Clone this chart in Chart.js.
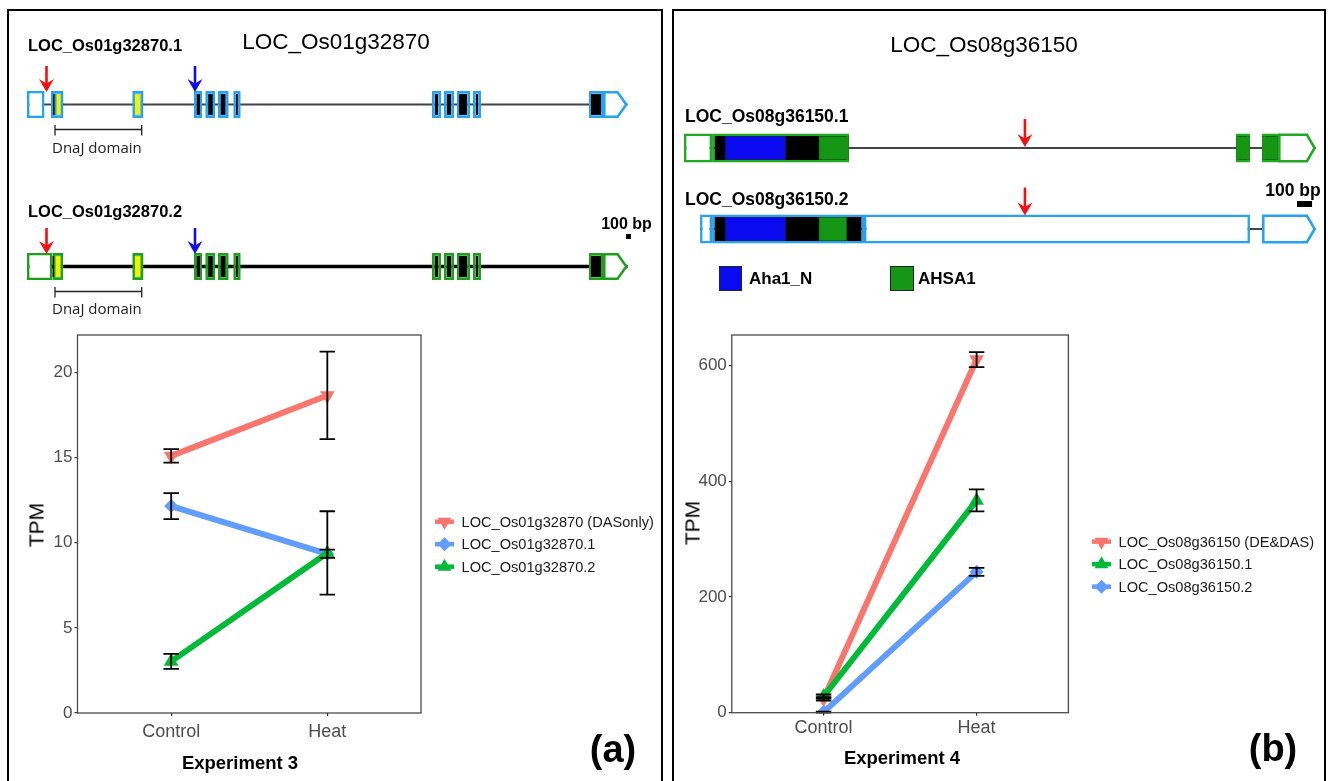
<!DOCTYPE html>
<html>
<head>
<meta charset="utf-8">
<script src="https://cdn.jsdelivr.net/npm/chart.js@4.4.1/dist/chart.umd.min.js"></script>
<style>
html,body{margin:0;padding:0;background:#fff;}
body{width:1328px;height:781px;overflow:hidden;position:relative;font-family:"Liberation Sans",Arial,Helvetica,sans-serif;color:#000;}
.t{position:absolute;white-space:nowrap;line-height:1;}
.c{transform:translate(-50%,-50%);}
.l{transform:translateY(-50%);}
.b{font-weight:bold;}
.panel{position:absolute;top:9px;height:820px;border:2.7px solid #000;border-bottom:none;box-sizing:border-box;}
canvas{position:absolute;}
.sq{position:absolute;box-sizing:border-box;border:1px solid #222;}
</style>
</head>
<body>
<div class="panel" style="left:6.6px;width:656.5px;"></div>
<div class="panel" style="left:672.4px;width:654px;"></div>

<canvas id="geneA" width="664" height="320" style="left:0;top:0;"></canvas>
<canvas id="geneB" width="664" height="320" style="left:664px;top:0;"></canvas>
<canvas id="chartA" width="664" height="461" style="left:0;top:320px;"></canvas>
<canvas id="chartB" width="664" height="461" style="left:664px;top:320px;"></canvas>

<!-- panel (a) texts -->
<div class="t c" style="left:336px;top:42px;font-size:22.5px;">LOC_Os01g32870</div>
<div class="t l b" style="left:28px;top:45px;font-size:16.5px;">LOC_Os01g32870.1</div>
<div class="t l b" style="left:28px;top:211px;font-size:16.5px;">LOC_Os01g32870.2</div>
<div class="t l" style="left:52px;top:147px;font-size:15px;font-family:'Open Sans',sans-serif;color:#222;">DnaJ domain</div>
<div class="t l" style="left:52px;top:308px;font-size:15px;font-family:'Open Sans',sans-serif;color:#222;">DnaJ domain</div>
<div class="t c b" style="left:626.5px;top:223.5px;font-size:16px;">100 bp</div>
<div class="t c" style="left:36px;top:525px;font-size:21px;transform:translate(-50%,-50%) rotate(-90deg);">TPM</div>
<div class="t c b" style="left:240px;top:763px;font-size:18.5px;">Experiment 3</div>
<div class="t c b" style="left:613px;top:749px;font-size:38px;">(a)</div>

<!-- panel (b) texts -->
<div class="t c" style="left:984px;top:45px;font-size:22.5px;">LOC_Os08g36150</div>
<div class="t l b" style="left:685px;top:117px;font-size:17.5px;">LOC_Os08g36150.1</div>
<div class="t l b" style="left:685px;top:200px;font-size:17.5px;">LOC_Os08g36150.2</div>
<div class="t c b" style="left:1293px;top:190.5px;font-size:17.5px;">100 bp</div>
<div class="sq" style="left:719px;top:266px;width:23px;height:25px;background:#0a0af0;"></div>
<div class="t l b" style="left:749px;top:278px;font-size:17px;">Aha1_N</div>
<div class="sq" style="left:890px;top:266px;width:24px;height:25px;background:#159615;"></div>
<div class="t l b" style="left:918px;top:278px;font-size:17px;">AHSA1</div>
<div class="t c" style="left:692px;top:523px;font-size:21px;transform:translate(-50%,-50%) rotate(-90deg);">TPM</div>
<div class="t c b" style="left:902px;top:758px;font-size:18.5px;">Experiment 4</div>
<div class="t c b" style="left:1273px;top:748px;font-size:38px;">(b)</div>

<script>
// ================= DATA =================
// ---- Panel (a): expression, Experiment 3 ----
const categoriesA = ['Control', 'Heat'];
const labelsA = ['LOC_Os01g32870 (DASonly)', 'LOC_Os01g32870.1', 'LOC_Os01g32870.2'];
const dasA = [15.1, 18.65];
const dasErrA = [0.4, 2.57];
const iso1A = [12.15, 9.35];
const iso1ErrA = [0.76, 0.24];
const iso2A = [3.03, 9.4];
const iso2ErrA = [0.44, 2.45];
const yTicksA = [0, 5, 10, 15, 20];

// ---- Panel (b): expression, Experiment 4 ----
const categoriesB = ['Control', 'Heat'];
const labelsB = ['LOC_Os08g36150 (DE&DAS)', 'LOC_Os08g36150.1', 'LOC_Os08g36150.2'];
const dasB = [24, 610.5];
const dasErrB = [3, 13];
const iso1B = [28, 367];
const iso1ErrB = [3.5, 19];
const iso2B = [1, 243.5];
const iso2ErrB = [1, 7];
const yTicksB = [0, 200, 400, 600];

// ---- Gene model (a): LOC_Os01g32870, bp from transcript start ----
const spanA1 = [0, 12012];
const utr5A1 = [[0, 350]];
const cdsA1 = [[480,730],[2106,2330],[3340,3500],[3566,3766],[3820,4034],[4126,4274],[8100,8280],[8340,8540],[8600,8860],[8920,9080],[11240,11520]];
const codA1 = [[520,550],[3394,3460],[3626,3714],[3874,3966],[4180,4214],[8160,8220],[8400,8480],[8640,8800],[8980,9020],[11280,11480]];
const dnajA1 = [[590,674],[2160,2270]];
const utr3A1 = [11520, 12012];

const spanA2 = [0, 12012];
const utr5A2 = [[0, 510]];
const cdsA2 = [[510,726],[2106,2330],[3340,3500],[3566,3766],[3820,4034],[4126,4274],[8100,8280],[8340,8540],[8600,8860],[8920,9080],[11240,11520]];
const codA2 = [[512,540],[3394,3460],[3626,3714],[3874,3966],[4180,4214],[8160,8220],[8400,8480],[8640,8800],[8980,9020],[11280,11480]];
const dnajA2 = [[570,670],[2160,2270]];
const utr3A2 = [11520, 12012];

const dasSiteA = 390;     // red arrows
const altStartA = 3360;   // blue arrows
const dnajDomainA = [560, 2294];

// ---- Gene model (b): LOC_Os08g36150, bp from transcript start ----
const spanB1 = [0, 4213];
const utr5B1 = [[0, 187]];
const cdsB1 = [[187,1100],[3680,3773],[3853,3960]];
const aha1B1 = [[273, 680]];
const ahsa1B1 = [[897,1100],[3680,3773],[3853,3960]];
const utr3B1 = [3960, 4213];

const spanB2 = [107, 4213];
const utr5B2 = [[107, 187]];
const cdsB2 = [[187, 1200]];
const ncB2 = [[1200, 3773]];
const aha1B2 = [[273, 680]];
const ahsa1B2 = [[897, 1087]];
const utr3B2 = [3853, 4213];

const dasSiteB = 2273;
const scaleBarBp = 100;

// ================= STYLE =================
const FONT = "'Liberation Sans', Arial, Helvetica, sans-serif";
Chart.defaults.font.family = FONT;
const RED = '#F8766D', GREEN = '#00BA38', BLUE = '#619CFF';
const EXON_BLUE = '#27a2f0', EXON_GREEN = '#1f9f1f';

function drawMarker(ctx, style, rot, x, y, r, color) {
  ctx.save();
  ctx.translate(x, y);
  ctx.rotate((rot || 0) * Math.PI / 180);
  ctx.fillStyle = color;
  ctx.beginPath();
  if (style === 'triangle') {
    ctx.moveTo(0, -r); ctx.lineTo(r * 0.866, r * 0.5); ctx.lineTo(-r * 0.866, r * 0.5);
  } else {
    ctx.moveTo(0, -r); ctx.lineTo(r, 0); ctx.lineTo(0, r); ctx.lineTo(-r, 0);
  }
  ctx.closePath(); ctx.fill();
  ctx.restore();
}

const errorBars = {
  id: 'errorBars',
  afterDatasetsDraw(chart, args, o) {
    const {ctx, scales: {x, y}} = chart;
    ctx.save();
    ctx.strokeStyle = '#000'; ctx.lineWidth = o.lw;
    chart.data.datasets.forEach(ds => {
      ds.data.forEach((p, j) => {
        const e = ds.err[j];
        const px = x.getPixelForValue(p.x);
        const y1 = y.getPixelForValue(p.y - e), y2 = y.getPixelForValue(p.y + e);
        ctx.beginPath();
        ctx.moveTo(px, y1); ctx.lineTo(px, y2);
        ctx.moveTo(px - o.cap / 2, y1); ctx.lineTo(px + o.cap / 2, y1);
        ctx.moveTo(px - o.cap / 2, y2); ctx.lineTo(px + o.cap / 2, y2);
        ctx.stroke();
      });
    });
    ctx.restore();
  }
};

const frame = {
  id: 'frame',
  afterDraw(chart) {
    const {ctx, chartArea: ca} = chart;
    ctx.save();
    ctx.strokeStyle = '#4a4a4a'; ctx.lineWidth = 1.3;
    ctx.strokeRect(ca.left, ca.top, ca.right - ca.left, ca.bottom - ca.top);
    ctx.restore();
  }
};

const keyLegend = {
  id: 'keyLegend',
  afterDraw(chart, args, o) {
    const {ctx, chartArea: ca} = chart;
    const kx = ca.right + o.dx;
    const y0 = (ca.top + ca.bottom) / 2 + o.dy;
    ctx.save();
    chart.data.datasets.forEach((ds, i) => {
      const y = y0 + i * o.spacing;
      ctx.strokeStyle = ds.borderColor; ctx.lineWidth = 4.5;
      ctx.beginPath(); ctx.moveTo(kx, y); ctx.lineTo(kx + 19, y); ctx.stroke();
      drawMarker(ctx, ds.pointStyle, ds.pointRotation, kx + 9.5, y, ds.pointStyle === 'triangle' ? 8 : 7, ds.backgroundColor);
      ctx.fillStyle = '#1a1a1a';
      ctx.font = '14.6px ' + FONT;
      ctx.textBaseline = 'middle'; ctx.textAlign = 'left';
      ctx.fillText(ds.label, kx + 26.6, y + 1);
    });
    ctx.restore();
  }
};

function lineChart(id, o) {
  const cv = document.getElementById(id);
  const W = cv.width, H = cv.height;
  const gridOpts = {display: true, drawOnChartArea: false, drawTicks: true, tickLength: 3, color: '#333', lineWidth: 1.2};
  return new Chart(cv, {
    type: 'line',
    data: {
      datasets: o.series.map((s, i) => ({
        label: s.label,
        data: s.values.map((v, j) => ({x: j + 1, y: v})),
        err: s.err,
        borderColor: s.color, backgroundColor: s.color,
        borderWidth: 6, borderCapStyle: 'butt',
        pointStyle: s.marker, pointRotation: s.rot || 0,
        pointRadius: s.marker === 'triangle' ? 8.5 : 7, pointHoverRadius: s.marker === 'triangle' ? 8.5 : 7,
        pointBorderWidth: 0,
        tension: 0, order: o.series.length - i
      }))
    },
    options: {
      responsive: false, animation: false,
      layout: {padding: {left: 0, top: o.caTop, right: W - o.caRight, bottom: 0}},
      plugins: {
        legend: {display: false}, tooltip: {enabled: false},
        errorBars: {lw: 1.8, cap: 15.5},
        keyLegend: o.legend
      },
      scales: {
        x: {
          type: 'linear', min: 0.4, max: 2.6,
          afterBuildTicks: sc => { sc.ticks = o.categories.map((c, i) => ({value: i + 1})); },
          afterFit: sc => { sc.height = H - o.caBottom; },
          ticks: {callback: v => o.categories[Math.round(v) - 1], color: '#4d4d4d', font: {size: 18}, padding: o.xPad, maxRotation: 0, autoSkip: false},
          grid: gridOpts, border: {display: false}
        },
        y: {
          type: 'linear', min: 0, max: o.yMax,
          afterBuildTicks: sc => { sc.ticks = o.yTicks.map(v => ({value: v})); },
          afterFit: sc => { sc.width = o.caLeft; },
          ticks: {callback: v => String(v), color: '#4d4d4d', font: {size: 17}, padding: 2},
          grid: gridOpts, border: {display: false}
        }
      }
    },
    plugins: [frame, errorBars, keyLegend]
  });
}

lineChart('chartA', {
  categories: categoriesA, yTicks: yTicksA, yMax: 22.2,
  caLeft: 77.5, caTop: 15, caRight: 421, caBottom: 393, xPad: 5.5,
  legend: {dx: 14, dy: -2.3, spacing: 22.5},
  series: [
    {label: labelsA[0], values: dasA, err: dasErrA, color: RED, marker: 'triangle', rot: 180},
    {label: labelsA[1], values: iso1A, err: iso1ErrA, color: BLUE, marker: 'rectRot'},
    {label: labelsA[2], values: iso2A, err: iso2ErrA, color: GREEN, marker: 'triangle'}
  ]
});

lineChart('chartB', {
  categories: categoriesB, yTicks: yTicksB, yMax: 653,
  caLeft: 67.8, caTop: 15, caRight: 404.4, caBottom: 392.7, xPad: 2,
  legend: {dx: 23.6, dy: 17.8, spacing: 22.5},
  series: [
    {label: labelsB[0], values: dasB, err: dasErrB, color: RED, marker: 'triangle', rot: 180},
    {label: labelsB[1], values: iso1B, err: iso1ErrB, color: GREEN, marker: 'triangle'},
    {label: labelsB[2], values: iso2B, err: iso2ErrB, color: BLUE, marker: 'rectRot'}
  ]
});

// ---------------- gene structure charts ----------------
const geneExtras = {
  id: 'geneExtras',
  afterDatasetsDraw(chart, args, o) {
    const {ctx, scales: {x, y}} = chart;
    ctx.save();
    // 3' UTR with arrow-shaped end
    o.tracks.forEach((t, i) => {
      const yc = y.getPixelForValue(i);
      const x0 = x.getPixelForValue(t.utr3[0]), x1 = x.getPixelForValue(t.utr3[1]);
      const hb = o.h / 2 - o.bw / 2;
      ctx.beginPath();
      ctx.moveTo(x0 + o.bw / 2, yc - hb);
      ctx.lineTo(x1 - o.tip, yc - hb);
      ctx.lineTo(x1 - o.bw / 2, yc);
      ctx.lineTo(x1 - o.tip, yc + hb);
      ctx.lineTo(x0 + o.bw / 2, yc + hb);
      ctx.closePath();
      ctx.fillStyle = '#fff'; ctx.fill();
      ctx.strokeStyle = t.color; ctx.lineWidth = o.bw; ctx.lineJoin = 'miter'; ctx.stroke();
    });
    // event arrows
    o.arrows.forEach(a => {
      const px = x.getPixelForValue(a.pos), yc = y.getPixelForValue(a.tx);
      const tipY = a.tip === 'line' ? yc - 1 : yc - o.h / 2 + 1;
      const top = tipY - o.arrowLen;
      ctx.strokeStyle = a.color; ctx.fillStyle = a.color; ctx.lineWidth = 2.6;
      ctx.beginPath(); ctx.moveTo(px, top); ctx.lineTo(px, tipY - 8); ctx.stroke();
      ctx.beginPath();
      ctx.moveTo(px, tipY);
      ctx.lineTo(px - 7.5, tipY - 13);
      ctx.lineTo(px, tipY - 8.5);
      ctx.lineTo(px + 7.5, tipY - 13);
      ctx.closePath(); ctx.fill();
    });
    // domain brackets
    (o.brackets || []).forEach(b => {
      const yb = y.getPixelForValue(b.tx) + o.brOff;
      const xa = x.getPixelForValue(b.range[0]), xb = x.getPixelForValue(b.range[1]);
      ctx.strokeStyle = '#222'; ctx.lineWidth = 1.3;
      ctx.beginPath();
      ctx.moveTo(xa, yb); ctx.lineTo(xb, yb);
      ctx.moveTo(xa, yb - 4.5); ctx.lineTo(xa, yb + 6);
      ctx.moveTo(xb, yb - 4.5); ctx.lineTo(xb, yb + 6);
      ctx.stroke();
    });
    // scale bar (100 bp)
    const sb = o.scaleBar;
    const sx0 = x.getPixelForValue(sb.pos), sx1 = x.getPixelForValue(sb.pos + scaleBarBp);
    const sy = y.getPixelForValue(sb.tx) + sb.dy;
    ctx.fillStyle = '#000';
    ctx.fillRect(sx0, sy - sb.h / 2, sx1 - sx0, sb.h);
    ctx.restore();
  }
};

function geneChart(id, o) {
  const cv = document.getElementById(id);
  const W = cv.width, H = cv.height;
  const datasets = [];
  o.tracks.forEach((t, i) => {
    const bar = (ranges, thick, fill, border, bw, order) => datasets.push({
      data: ranges.map(r => ({x: [r[0], r[1]], y: i})),
      barThickness: thick, backgroundColor: fill,
      borderColor: border || fill, borderWidth: bw || 0,
      borderSkipped: false, grouped: false, inflateAmount: 0, order
    });
    const inner = o.h - 2 * o.bw;
    bar([t.span], t.intronW, t.intronC, null, 0, 10);
    bar(t.utr5, o.h, '#fff', t.color, o.bw, 8);
    if (t.nc) bar(t.nc, o.h, '#fff', t.color, o.bw, 8);
    bar(t.cds, o.h, t.cdsFill, t.color, o.bw, 8);
    if (t.cod) bar(t.cod, inner - 1, '#000', null, 0, 6);
    if (t.dnaj) bar(t.dnaj, inner - 1, '#f2f200', null, 0, 6);
    if (t.aha1) bar(t.aha1, inner, '#0a0af0', '#1a1a70', 0.8, 6);
    if (t.ahsa1) bar(t.ahsa1, inner, '#159615', '#0d6e0d', 0.6, 6);
  });
  const xMin = -o.originPx * o.bpPerPx, xMax = (W - o.originPx) * o.bpPerPx;
  const yMin = -o.row0Px / o.rowGap, yMax = yMin + H / o.rowGap;
  return new Chart(cv, {
    type: 'bar',
    data: {datasets},
    options: {
      indexAxis: 'y', responsive: false, animation: false,
      layout: {padding: 0},
      plugins: {legend: {display: false}, tooltip: {enabled: false}, geneExtras: o},
      scales: {
        x: {type: 'linear', display: false, min: xMin, max: xMax, offset: false, grace: 0},
        y: {type: 'linear', display: false, min: yMin, max: yMax, reverse: true, offset: false, grace: 0}
      }
    },
    plugins: [geneExtras]
  });
}

geneChart('geneA', {
  bpPerPx: 20, originPx: 27, row0Px: 104.5, rowGap: 162,
  h: 27, bw: 2.6, tip: 10, arrowLen: 26, brOff: 25,
  tracks: [
    {span: spanA1, utr5: utr5A1, cds: cdsA1, cod: codA1, dnaj: dnajA1, utr3: utr3A1, color: EXON_BLUE, cdsFill: EXON_BLUE, intronW: 2, intronC: '#444'},
    {span: spanA2, utr5: utr5A2, cds: cdsA2, cod: codA2, dnaj: dnajA2, utr3: utr3A2, color: EXON_GREEN, cdsFill: EXON_GREEN, intronW: 3.5, intronC: '#000'}
  ],
  arrows: [
    {tx: 0, pos: dasSiteA, color: '#f21010', tip: 'exon'},
    {tx: 0, pos: altStartA, color: '#1010e6', tip: 'exon'},
    {tx: 1, pos: dasSiteA, color: '#f21010', tip: 'exon'},
    {tx: 1, pos: altStartA, color: '#1010e6', tip: 'exon'}
  ],
  brackets: [{tx: 0, range: dnajDomainA}, {tx: 1, range: dnajDomainA}],
  scaleBar: {tx: 1, pos: 11980, dy: -30, h: 5}
});

geneChart('geneB', {
  bpPerPx: 100 / 15, originPx: 20, row0Px: 148, rowGap: 81,
  h: 29, bw: 2.6, tip: 9, arrowLen: 28, brOff: 0,
  tracks: [
    {span: spanB1, utr5: utr5B1, cds: cdsB1, aha1: aha1B1, ahsa1: ahsa1B1, utr3: utr3B1, color: '#22a822', cdsFill: '#000', intronW: 2, intronC: '#444'},
    {span: spanB2, utr5: utr5B2, cds: cdsB2, nc: ncB2, aha1: aha1B2, ahsa1: ahsa1B2, utr3: utr3B2, color: EXON_BLUE, cdsFill: '#000', intronW: 2, intronC: '#444'}
  ],
  arrows: [
    {tx: 0, pos: dasSiteB, color: '#f21010', tip: 'line'},
    {tx: 1, pos: dasSiteB, color: '#f21010', tip: 'exon'}
  ],
  brackets: [],
  scaleBar: {tx: 1, pos: 4087, dy: -25, h: 6}
});
</script>
</body>
</html>
